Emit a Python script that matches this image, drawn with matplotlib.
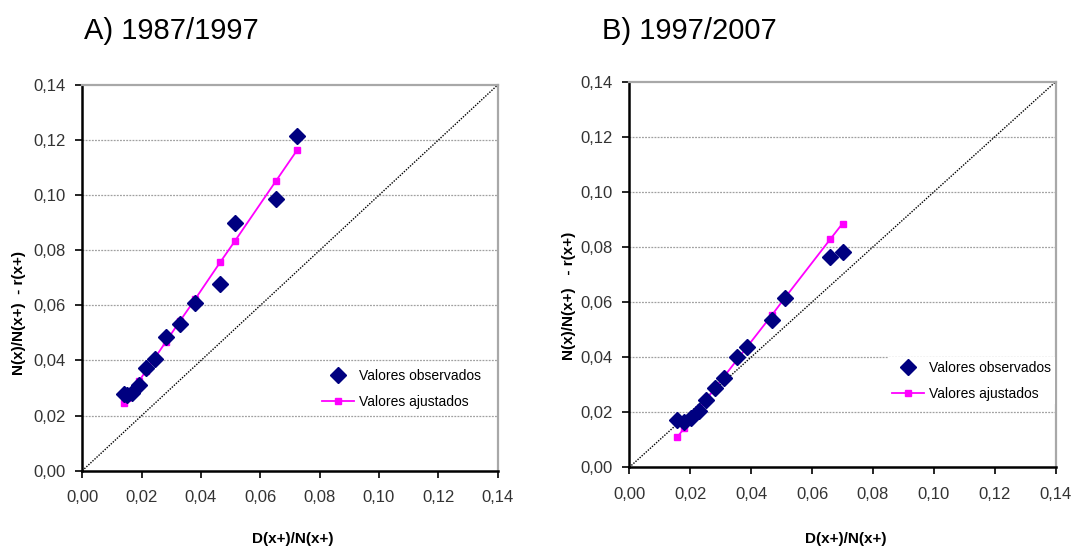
import numpy as np
import matplotlib.pyplot as plt

# dados
xa = [0.0140, 0.0152, 0.0169, 0.0190, 0.0214, 0.0245, 0.0281, 0.0329, 0.0380, 0.0465, 0.0514, 0.0653, 0.0725]
ya_obs = [0.0280, 0.0274, 0.0283, 0.0312, 0.0372, 0.0407, 0.0486, 0.0534, 0.0610, 0.0679, 0.0898, 0.0987, 0.1214]
ya_aj = [0.0246, 0.0263, 0.0290, 0.0324, 0.0361, 0.0410, 0.0467, 0.0543, 0.0622, 0.0757, 0.0833, 0.1052, 0.1165]

xb = [0.0158, 0.0180, 0.0203, 0.0228, 0.0251, 0.0281, 0.0310, 0.0355, 0.0388, 0.0469, 0.0510, 0.0659, 0.0700]
yb_obs = [0.0172, 0.0163, 0.0180, 0.0203, 0.0243, 0.0289, 0.0323, 0.0402, 0.0436, 0.0535, 0.0614, 0.0764, 0.0782]
yb_aj = [0.0110, 0.0142, 0.0174, 0.0210, 0.0243, 0.0287, 0.0328, 0.0392, 0.0439, 0.0554, 0.0614, 0.0827, 0.0885]

diag = [0, 0.14]
ticks = [0, 0.02, 0.04, 0.06, 0.08, 0.10, 0.12, 0.14]
tick_labels = ['0,00', '0,02', '0,04', '0,06', '0,08', '0,10', '0,12', '0,14']

titulos = ['A) 1987/1997', 'B) 1997/2007']
ylabels = ['N(x)/N(x+)  - r(x+)', 'N(x)/N(x+)   - r(x+)']

plt.rcParams['font.family'] = ['Liberation Sans', 'DejaVu Sans']

fig = plt.figure(figsize=(10.73, 5.5), dpi=100)
axA = fig.add_axes([0.0767, 0.1442, 0.3871, 0.7013])
axB = fig.add_axes([0.5865, 0.1504, 0.3974, 0.7011])


def painel(ax, x, yobs, yaj, ylabel, ylab_pos, xlab_pos, leg_pos):
    ax.plot(diag, diag, color='black', linestyle=(0, (1, 1)), linewidth=1, zorder=1)
    ax.plot(x, yaj, color='#ff00ff', linewidth=1.3, marker='s', markersize=4,
            label='Valores ajustados', zorder=3)
    ax.plot(x, yobs, linestyle='none', marker='D', markersize=8, color='#000080',
            label='Valores observados', zorder=4)

    ax.set_xlim(0, 0.14)
    ax.set_ylim(0, 0.14)
    ax.set_xticks(ticks)
    ax.set_yticks(ticks)
    ax.set_xticklabels(tick_labels)
    ax.set_yticklabels(tick_labels)
    ax.tick_params(labelsize=12, labelcolor='#333333', length=5, width=1.2, direction='out')
    ax.tick_params(axis='x', pad=9)
    ax.tick_params(axis='y', pad=7)

    for v in ticks[1:-1]:
        ax.axhline(v, color='#a0a0a0', linestyle=(0, (1.5, 1)), linewidth=0.9, zorder=0)

    ax.spines['left'].set_linewidth(1.8)
    ax.spines['bottom'].set_linewidth(1.8)
    ax.spines['top'].set_color('#a8a8a8')
    ax.spines['right'].set_color('#a8a8a8')
    ax.spines['top'].set_linewidth(1.6)
    ax.spines['right'].set_linewidth(1.6)

    ax.set_xlabel('D(x+)/N(x+)', fontsize=11, fontweight='bold')
    ax.set_ylabel(ylabel, fontsize=11, fontweight='bold')
    ax.xaxis.set_label_coords(*xlab_pos)
    ax.yaxis.set_label_coords(*ylab_pos)

    h, l = ax.get_legend_handles_labels()
    leg = ax.legend(h[::-1], l[::-1], loc='upper left', bbox_to_anchor=leg_pos, fontsize=10,
                    frameon=True, facecolor='white', edgecolor='none', framealpha=1, fancybox=False,
                    handlelength=2.3, handletextpad=0.4, labelspacing=0.85, borderpad=0.25,
                    borderaxespad=0)
    leg.set_zorder(5)


painel(axA, xa, ya_obs, ya_aj, ylabels[0], (-0.136, 0.41), (0.507, -0.158), (0.568, 0.273))
painel(axB, xb, yb_obs, yb_aj, ylabels[1], (-0.125, 0.444), (0.508, -0.168), (0.607, 0.285))

fig.text(0.0783, 0.9436, titulos[0], fontsize=21, ha='left', va='center')
fig.text(0.561, 0.9436, titulos[1], fontsize=21, ha='left', va='center')

fig.savefig('out.png', dpi=100)
